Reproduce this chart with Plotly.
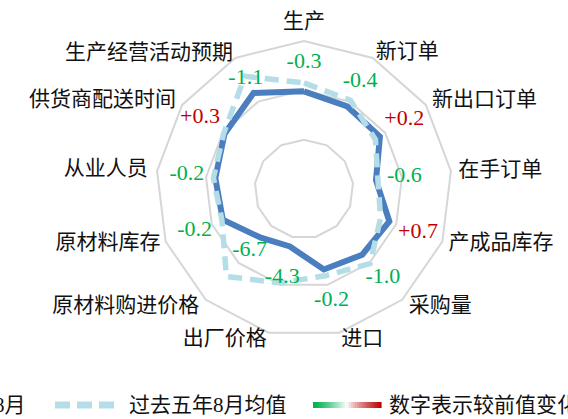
import plotly.graph_objects as go

categories = ["生产", "新订单", "新出口订单", "在手订单", "产成品库存", "采购量", "进口",
              "出厂价格", "原材料购进价格", "原材料库存", "从业人员", "供货商配送时间", "生产经营活动预期"]
aug_values = [49.8, 48.9, 48.7, 44.7, 48.5, 47.8, 46.8, 42.0, 43.2, 47.6, 48.1, 49.6, 52.0]
avg5_values = [51.5, 50.3, 47.6, 45.1, 46.6, 50.2, 48.1, 49.6, 53.7, 47.8, 48.5, 49.8, 55.8]
changes = [-0.3, -0.4, 0.2, -0.6, 0.7, -1.0, -0.2, -4.3, -6.7, -0.2, -0.2, 0.3, -1.1]

# placement of the text labels (radial position in axis units, anchor)
change_label_r = [55.6, 54.5, 54.7, 50.5, 54.7, 54.1, 53.3, 48.4, 46.6, 53.7, 53.9, 55.6, 55.4]
cat_label_r = [61.5, 61.3, 61.5, 61.5, 61.3, 62.0, 61.5, 61.5, 62.0, 61.1, 61.9, 61.5, 61.0]
cat_label_pos = ["top center", "middle right", "middle right", "middle right", "middle right",
                 "middle right", "middle right", "middle left", "middle left", "middle left",
                 "middle left", "middle left", "middle left"]

GREEN = "#00B050"
RED = "#C00000"
BLUE = "#4A7EBF"
LIGHT = "#B4DDE8"
GRID = "#D6D6D6"
SERIF = "Liberation Serif, Noto Sans CJK SC, serif"

R_MIN, R_OUT, R_MAX = 30, 60, 64

fig = go.Figure()
fig.add_trace(go.Scatterpolar(
    r=aug_values + aug_values[:1], theta=categories + categories[:1],
    mode="lines", line=dict(color=BLUE, width=6), name="8月", showlegend=False))
fig.add_trace(go.Scatterpolar(
    r=avg5_values + avg5_values[:1], theta=categories + categories[:1],
    mode="lines", line=dict(color=LIGHT, width=5.5, dash="14px,8px"),
    name="过去五年8月均值", showlegend=False))
fig.add_trace(go.Scatterpolar(
    r=change_label_r, theta=categories, mode="text",
    text=[f"{v:+.1f}" for v in changes],
    textfont=dict(family=SERIF, size=22, color=[RED if v > 0 else GREEN for v in changes]),
    showlegend=False, hoverinfo="skip"))
fig.add_trace(go.Scatterpolar(
    r=cat_label_r, theta=categories, mode="text", text=categories,
    textposition=cat_label_pos, cliponaxis=False,
    textfont=dict(family=SERIF, size=21, color="#111111"),
    showlegend=False, hoverinfo="skip"))

W, H = 568, 419
cx, cy, R_outer_px = 304, 189, 148
R = R_outer_px * (R_MAX - R_MIN) / (R_OUT - R_MIN)
fig.update_layout(
    width=W, height=H, margin=dict(l=0, r=0, t=0, b=0),
    paper_bgcolor="white", plot_bgcolor="white",
    font=dict(family=SERIF, color="#111111"),
    polar=dict(
        domain=dict(x=[(cx - R) / W, (cx + R) / W], y=[(H - cy - R) / H, (H - cy + R) / H]),
        bgcolor="rgba(0,0,0,0)",
        gridshape="linear",
        radialaxis=dict(range=[R_MIN, R_MAX], tickvals=[40, 50, 60], showticklabels=False,
                        showline=False, ticks="", gridcolor=GRID, gridwidth=1.8),
        angularaxis=dict(direction="clockwise", rotation=90, showgrid=False,
                         showline=False, ticks="", showticklabels=False),
    ),
)

# manual legend
ly = 405
def px(x):
    return x / W
def py(y):
    return (H - y) / H

shapes = []
shapes.append(dict(type="line", xref="paper", yref="paper", x0=px(-70), x1=px(-10),
                   y0=py(ly), y1=py(ly), line=dict(color=BLUE, width=6)))
for x0 in (55, 77, 99):
    shapes.append(dict(type="line", xref="paper", yref="paper", x0=px(x0), x1=px(x0 + 15),
                       y0=py(ly), y1=py(ly), line=dict(color=LIGHT, width=7)))
# gradient legend symbol
n = 34
gx0, gx1 = 313, 381
def mix(c1, c2, t):
    a = [int(c1[i:i + 2], 16) for i in (1, 3, 5)]
    b = [int(c2[i:i + 2], 16) for i in (1, 3, 5)]
    return "rgb(%d,%d,%d)" % tuple(round(a[k] + (b[k] - a[k]) * t) for k in range(3))
for i in range(n):
    t = (i + 0.5) / n
    if t < 0.5:
        col = mix(GREEN, "#FFFFFF", (t / 0.5) ** 1.3)
    else:
        col = mix("#FFFFFF", RED, ((t - 0.5) / 0.5) ** 0.8)
    xa = gx0 + (gx1 - gx0) * i / n
    xb = gx0 + (gx1 - gx0) * (i + 1) / n
    shapes.append(dict(type="line", xref="paper", yref="paper", x0=px(xa), x1=px(xb + 0.6),
                       y0=py(ly), y1=py(ly), line=dict(color=col, width=6)))
fig.update_layout(shapes=shapes)

ann_font = dict(family=SERIF, size=21, color="#111111")
fig.add_annotation(x=px(28), y=py(ly), xref="paper", yref="paper", text="8月",
                   showarrow=False, xanchor="right", yanchor="middle", font=ann_font)
fig.add_annotation(x=px(127), y=py(ly), xref="paper", yref="paper", text="过去五年8月均值",
                   showarrow=False, xanchor="left", yanchor="middle", font=ann_font)
fig.add_annotation(x=px(387), y=py(ly), xref="paper", yref="paper", text="数字表示较前值变化",
                   showarrow=False, xanchor="left", yanchor="middle", font=ann_font)

fig.write_html("out.html")
